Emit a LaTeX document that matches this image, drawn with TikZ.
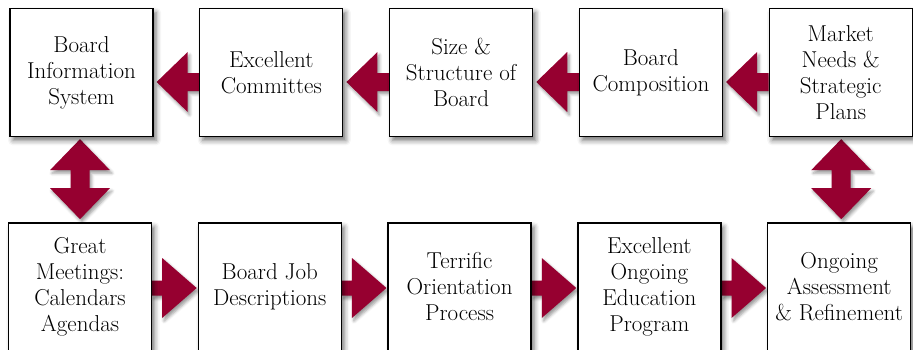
\documentclass[tikz,border=0pt]{standalone}
\usetikzlibrary{positioning,calc,backgrounds,shadows.blur}

\definecolor{boardred}{RGB}{150,0,48}

\tikzset{
	box/.style={draw, line width=1.3pt, fill=white, minimum width=143pt, minimum height=128pt,
		inner sep=2pt, align=center, font=\fontsize{23}{26}\selectfont,
		blur shadow={shadow xshift=3pt, shadow yshift=-4pt, shadow blur radius=5pt, shadow opacity=55}},
	fatarrow/.style={fill=boardred,
		blur shadow={shadow xshift=2pt, shadow yshift=-3pt, shadow blur radius=3pt, shadow opacity=40}},
}

\begin{document}
\begin{tikzpicture}[x=1pt, y=1pt, node distance=45.5pt]
	\useasboundingbox (0,0) rectangle (913,349);

	% Top row, read from right to left
	\node[box] (info) at (81.5,276.5) {Board\\Information\\System};
	\node[box, right=of info] (comm) {Excellent\\Committes};
	\node[box, right=of comm] (size) {Size \&\\Structure of\\Board};
	\node[box, right=of size] (comp) {Board\\Composition};
	\node[box, right=of comp] (mkt) {Market\\Needs \&\\Strategic\\Plans};

	% Bottom row, read from left to right
	\node[box] (meet) at (80,62) {Great\\Meetings:\\Calendars\\Agendas};
	\node[box, right=of meet] (jobs) {Board Job\\Descriptions};
	\node[box, right=of jobs] (orient) {Terrific\\Orientation\\Process};
	\node[box, right=of orient] (educ) {Excellent\\Ongoing\\Education\\Program};
	\node[box, right=of educ] (assess) {Ongoing\\Assessment\\\& Refinement};

	\begin{scope}[on background layer]
		% Fat arrows pointing left along the top.
		\fill[fatarrow] ($(info.east)+(3,-9.5)$) -- ++(31,30) -- ++(0,-21) -- ($(comm.west)+(0,-0.5)$) -- ++(0,-18) -- ($(info.east)+(34,-18.5)$) -- ++(0,-21) -- cycle;
		\fill[fatarrow] ($(comm.east)+(3,-9.5)$) -- ++(31,30) -- ++(0,-21) -- ($(size.west)+(0,-0.5)$) -- ++(0,-18) -- ($(comm.east)+(34,-18.5)$) -- ++(0,-21) -- cycle;
		\fill[fatarrow] ($(size.east)+(3,-9.5)$) -- ++(31,30) -- ++(0,-21) -- ($(comp.west)+(0,-0.5)$) -- ++(0,-18) -- ($(size.east)+(34,-18.5)$) -- ++(0,-21) -- cycle;
		\fill[fatarrow] ($(comp.east)+(3,-9.5)$) -- ++(31,30) -- ++(0,-21) -- ($(mkt.west)+(0,-0.5)$) -- ++(0,-18) -- ($(comp.east)+(34,-18.5)$) -- ++(0,-21) -- cycle;

		% Fat arrows pointing right along the bottom.
		\fill[fatarrow] ($(meet.east)+(0,6.5)$) -- ++(10,0) -- ++(0,22.5) -- ($(jobs.west)+(-1,-1)$) -- ($(meet.east)+(10,-31)$) -- ++(0,22.5) -- ++(-10,0) -- cycle;
		\fill[fatarrow] ($(jobs.east)+(0,6.5)$) -- ++(10,0) -- ++(0,22.5) -- ($(orient.west)+(-1,-1)$) -- ($(jobs.east)+(10,-31)$) -- ++(0,22.5) -- ++(-10,0) -- cycle;
		\fill[fatarrow] ($(orient.east)+(0,6.5)$) -- ++(10,0) -- ++(0,22.5) -- ($(educ.west)+(-1,-1)$) -- ($(orient.east)+(10,-31)$) -- ++(0,22.5) -- ++(-10,0) -- cycle;
		\fill[fatarrow] ($(educ.east)+(0,6.5)$) -- ++(10,0) -- ++(0,22.5) -- ($(assess.west)+(-1,-1)$) -- ($(educ.east)+(10,-31)$) -- ++(0,22.5) -- ++(-10,0) -- cycle;

		% Two-headed arrows joining the rows.
		\fill[fatarrow] ($(info.south)+(-1.5,-2)$) -- ++(30,-31) -- ++(-20.5,0) -- ++(0,-18) -- ++(20.5,0) -- ++(-30,-31) -- ++(-30,31) -- ++(20.5,0) -- ++(0,18) -- ++(-20.5,0) -- cycle;
		\fill[fatarrow] ($(mkt.south)+(0.5,-2)$) -- ++(30,-31) -- ++(-20.5,0) -- ++(0,-18) -- ++(20.5,0) -- ++(-30,-31) -- ++(-30,31) -- ++(20.5,0) -- ++(0,18) -- ++(-20.5,0) -- cycle;
	\end{scope}
\end{tikzpicture}
\end{document}
